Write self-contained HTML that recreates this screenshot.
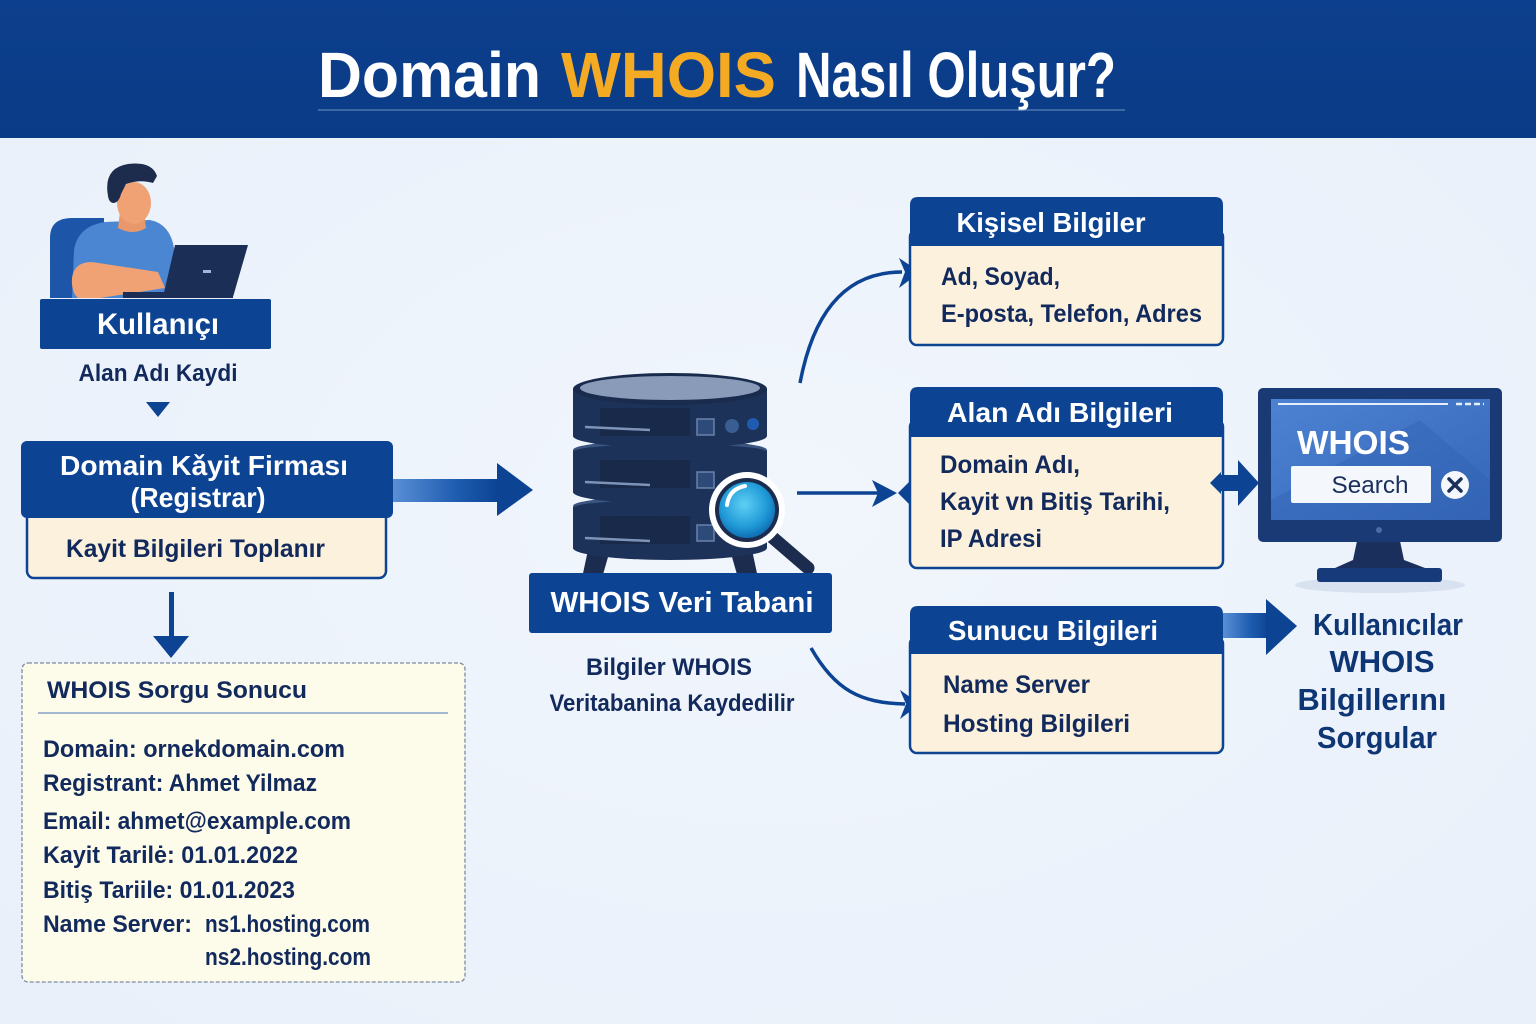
<!DOCTYPE html>
<html><head><meta charset="utf-8"><style>
html,body{margin:0;padding:0;background:#edf3fb;}
svg{display:block;}
text{font-family:"Liberation Sans","DejaVu Sans",sans-serif;font-weight:bold;}
</style></head><body>
<svg width="1536" height="1024" viewBox="0 0 1536 1024" xmlns="http://www.w3.org/2000/svg">
<defs>
<linearGradient id="hdr" x1="0" y1="0" x2="0" y2="1"><stop offset="0" stop-color="#0c3f8d"/><stop offset="1" stop-color="#0a3b86"/></linearGradient>
<linearGradient id="bar" x1="0" y1="0" x2="1" y2="0"><stop offset="0" stop-color="#5a8fd6"/><stop offset="0.6" stop-color="#1e5cb0"/><stop offset="1" stop-color="#0c4393"/></linearGradient>
<radialGradient id="lens" cx="0.45" cy="0.4" r="0.6"><stop offset="0" stop-color="#5fd0f5"/><stop offset="0.7" stop-color="#1f98d6"/><stop offset="1" stop-color="#0f6fb4"/></radialGradient>
<linearGradient id="scr" x1="0" y1="0" x2="1" y2="1"><stop offset="0" stop-color="#4d82d2"/><stop offset="1" stop-color="#3566b8"/></linearGradient>
<radialGradient id="bg" cx="0.5" cy="0.5" r="0.7"><stop offset="0" stop-color="#f1f6fc"/><stop offset="1" stop-color="#e9f0fa"/></radialGradient>
</defs>
<rect x="0" y="0" width="1536" height="1024" fill="url(#bg)"/>
<!-- header -->
<rect x="0" y="0" width="1536" height="138" fill="url(#hdr)"/>
<text x="318" y="97" font-size="64" fill="#ffffff" textLength="223" lengthAdjust="spacingAndGlyphs">Domain</text>
<text x="561" y="97" font-size="64" fill="#f4aa22" textLength="215" lengthAdjust="spacingAndGlyphs">WHOIS</text>
<text x="796" y="97" font-size="64" fill="#ffffff" textLength="320" lengthAdjust="spacingAndGlyphs">Nasıl Oluşur?</text>
<line x1="318" y1="110" x2="1125" y2="110" stroke="#7f9fd0" stroke-width="1.2" opacity="0.7"/>

<!-- person -->
<path d="M50,298 L50,238 Q50,218 72,218 L104,218 L104,298 Z" fill="#1d55a8"/>
<path d="M72,298 L74,250 Q78,226 105,222 L150,220 Q170,224 174,248 L172,298 Z" fill="#4a86d2"/>
<path d="M120,212 L144,212 L146,228 Q133,236 118,228 Z" fill="#e8986a"/>
<ellipse cx="134" cy="203" rx="17" ry="21" fill="#f0a274"/>
<path d="M108,196 Q103,168 128,164 Q152,161 157,176 L153,183 Q140,179 126,184 L121,194 Q119,202 114,203 Q109,203 108,196 Z" fill="#1d2c4c"/>
<path d="M72,278 Q74,262 92,262 L158,272 L165,288 L100,298 L78,298 Q71,292 72,278 Z" fill="#f0a274"/>
<polygon points="175,245 248,245 233,297 163,297" fill="#1b2f56"/>
<rect x="123" y="292" width="110" height="6" fill="#1b2f56"/>
<rect x="203" y="270" width="8" height="3" fill="#9fb8e0"/>

<!-- Kullanıcı -->
<rect x="40" y="299" width="231" height="50" rx="2" fill="#0c4393"/>
<text x="158" y="334" font-size="30" fill="#fff" text-anchor="middle" textLength="122" lengthAdjust="spacingAndGlyphs">Kullanıçı</text>
<text x="158" y="381" font-size="24" fill="#12295c" text-anchor="middle" textLength="159" lengthAdjust="spacingAndGlyphs">Alan Adı Kaydi</text>
<polygon points="146,402 170,402 158,417" fill="#0c4393"/>

<!-- Registrar -->
<rect x="27" y="505" width="359" height="73" rx="7" fill="#fbf1dc" stroke="#0c4393" stroke-width="2.5"/>
<rect x="21" y="441" width="372" height="77" rx="6" fill="#0c4393"/>
<text x="204" y="475" font-size="28" fill="#fff" text-anchor="middle" textLength="288" lengthAdjust="spacingAndGlyphs">Domain Kǎyit Firması</text>
<text x="198" y="507" font-size="28" fill="#fff" text-anchor="middle" textLength="135" lengthAdjust="spacingAndGlyphs">(Registrar)</text>
<text x="66" y="557" font-size="25" fill="#12295c" textLength="259" lengthAdjust="spacingAndGlyphs">Kayit Bilgileri Toplanır</text>

<!-- arrow registrar -> db -->
<rect x="393" y="479" width="106" height="23" fill="url(#bar)"/>
<polygon points="497,463 533,490 497,516" fill="#0c4393"/>

<!-- down arrow -->
<rect x="169" y="592" width="5" height="48" fill="#0c4393"/>
<polygon points="153,636 189,636 171,658" fill="#0c4393"/>

<!-- WHOIS Sorgu Sonucu -->
<rect x="22" y="663" width="443" height="319" rx="6" fill="#fdfbea" stroke="#7d8ca3" stroke-width="1.3" stroke-dasharray="4,2"/>
<text x="47" y="698" font-size="24" fill="#12295c" textLength="260" lengthAdjust="spacingAndGlyphs">WHOIS Sorgu Sonucu</text>
<line x1="38" y1="713" x2="448" y2="713" stroke="#6e8fbf" stroke-width="1.2"/>
<g font-size="24" fill="#12295c">
<text x="43" y="757" textLength="302" lengthAdjust="spacingAndGlyphs">Domain: ornekdomain.com</text>
<text x="43" y="791" textLength="274" lengthAdjust="spacingAndGlyphs">Registrant: Ahmet Yilmaz</text>
<text x="43" y="829" textLength="308" lengthAdjust="spacingAndGlyphs">Email: ahmet@example.com</text>
<text x="43" y="863" textLength="255" lengthAdjust="spacingAndGlyphs">Kayit Tarilė: 01.01.2022</text>
<text x="43" y="898" textLength="252" lengthAdjust="spacingAndGlyphs">Bitiş Tariile: 01.01.2023</text>
<text x="43" y="932" textLength="149" lengthAdjust="spacingAndGlyphs">Name Server:</text>
<text x="205" y="932" textLength="165" lengthAdjust="spacingAndGlyphs">ns1.hosting.com</text>
<text x="205" y="965" textLength="166" lengthAdjust="spacingAndGlyphs">ns2.hosting.com</text>
</g>

<!-- database -->
<polygon points="588,550 610,550 602,578 582,578" fill="#1b2c4e"/>
<polygon points="730,550 752,550 758,578 738,578" fill="#1b2c4e"/>
<!-- disk3 -->
<path d="M573,507 L573,548 A97,12 0 0 0 767,548 L767,507 Z" fill="#1d3258"/>
<ellipse cx="670" cy="506" rx="97" ry="10" fill="#3a5480"/>
<ellipse cx="670" cy="508" rx="97" ry="8" fill="#1d3258"/>
<rect x="600" y="516" width="90" height="28" fill="#18294a"/>
<line x1="585" y1="538" x2="650" y2="541" stroke="#7e93b8" stroke-width="2.5"/>
<rect x="697" y="525" width="17" height="16" fill="#2d4a78" stroke="#6a82ab" stroke-width="1.5"/>
<!-- disk2 -->
<path d="M573,450 L573,492 A97,12 0 0 0 767,492 L767,450 Z" fill="#1d3258"/>
<ellipse cx="670" cy="450" rx="97" ry="10" fill="#3a5480"/>
<ellipse cx="670" cy="452" rx="97" ry="8" fill="#1d3258"/>
<rect x="600" y="460" width="90" height="28" fill="#18294a"/>
<line x1="585" y1="482" x2="650" y2="485" stroke="#7e93b8" stroke-width="2.5"/>
<rect x="697" y="472" width="17" height="16" fill="#2d4a78" stroke="#6a82ab" stroke-width="1.5"/>
<!-- disk1 -->
<path d="M573,389 L573,436 A97,12 0 0 0 767,436 L767,389 Z" fill="#1d3258"/>
<ellipse cx="670" cy="389" rx="97" ry="16" fill="#1a2c4e"/>
<ellipse cx="670" cy="388" rx="90" ry="12" fill="#8a9bb9"/>
<rect x="600" y="408" width="90" height="28" fill="#18294a"/>
<line x1="585" y1="427" x2="650" y2="430" stroke="#7e93b8" stroke-width="2.5"/>
<rect x="697" y="419" width="17" height="16" fill="#2d4a78" stroke="#6a82ab" stroke-width="1.5"/>
<circle cx="732" cy="426" r="7" fill="#3a5d94"/>
<circle cx="753" cy="424" r="6" fill="#1f5bb0"/>
<!-- magnifier -->
<line x1="772" y1="537" x2="808" y2="568" stroke="#1b2c4e" stroke-width="13" stroke-linecap="round"/>
<circle cx="747" cy="510" r="38" fill="#ffffff"/>
<circle cx="747" cy="510" r="32" fill="#1b2c4e"/>
<circle cx="747" cy="510" r="28" fill="url(#lens)"/>
<path d="M727,505 Q729,489 745,486" stroke="#ffffff" stroke-width="4" fill="none" stroke-linecap="round"/>

<!-- WHOIS Veri Tabani -->
<rect x="529" y="573" width="303" height="60" rx="3" fill="#0c4393"/>
<text x="682" y="612" font-size="29" fill="#fff" text-anchor="middle" textLength="263" lengthAdjust="spacingAndGlyphs">WHOIS Veri Tabani</text>
<text x="669" y="675" font-size="24" fill="#12295c" text-anchor="middle" textLength="166" lengthAdjust="spacingAndGlyphs">Bilgiler WHOIS</text>
<text x="672" y="711" font-size="24" fill="#12295c" text-anchor="middle" textLength="245" lengthAdjust="spacingAndGlyphs">Veritabanina Kaydedilir</text>

<!-- connectors from db -->
<path d="M800,383 C812,320 840,272 902,272" stroke="#0c4393" stroke-width="3.5" fill="none"/>
<polygon points="899,258 920,272 899,288 905,272" fill="#0c4393"/>
<line x1="797" y1="493" x2="880" y2="493" stroke="#0c4393" stroke-width="3.5"/>
<polygon points="872,480 897,493 872,507 878,493" fill="#0c4393"/>
<polygon points="910,481 922,493 910,505 898,493" fill="#0c4393"/>
<path d="M811,648 C835,690 860,703 905,704" stroke="#0c4393" stroke-width="3.5" fill="none"/>
<polygon points="900,690 920,704 900,719 906,704" fill="#0c4393"/>

<!-- Kişisel Bilgiler -->
<rect x="910" y="230" width="313" height="115" rx="7" fill="#fbf1dc" stroke="#0c4393" stroke-width="2.5"/>
<path d="M910,246 L910,205 Q910,197 918,197 L1215,197 Q1223,197 1223,205 L1223,246 Z" fill="#0c4393"/>
<text x="1051" y="232" font-size="28" fill="#fff" text-anchor="middle" textLength="189" lengthAdjust="spacingAndGlyphs">Kişisel Bilgiler</text>
<text x="941" y="285" font-size="25" fill="#12295c" textLength="119" lengthAdjust="spacingAndGlyphs">Ad, Soyad,</text>
<text x="941" y="322" font-size="25" fill="#12295c" textLength="261" lengthAdjust="spacingAndGlyphs">E-posta, Telefon, Adres</text>

<!-- Alan Adı Bilgileri -->
<rect x="910" y="420" width="313" height="148" rx="7" fill="#fbf1dc" stroke="#0c4393" stroke-width="2.5"/>
<path d="M910,437 L910,395 Q910,387 918,387 L1215,387 Q1223,387 1223,395 L1223,437 Z" fill="#0c4393"/>
<text x="1060" y="422" font-size="28" fill="#fff" text-anchor="middle" textLength="226" lengthAdjust="spacingAndGlyphs">Alan Adı Bilgileri</text>
<text x="940" y="473" font-size="25" fill="#12295c" textLength="140" lengthAdjust="spacingAndGlyphs">Domain Adı,</text>
<text x="940" y="510" font-size="25" fill="#12295c" textLength="230" lengthAdjust="spacingAndGlyphs">Kayit vn Bitiş Tarihi,</text>
<text x="940" y="547" font-size="25" fill="#12295c" textLength="102" lengthAdjust="spacingAndGlyphs">IP Adresi</text>

<!-- Sunucu Bilgileri -->
<rect x="910" y="637" width="313" height="116" rx="7" fill="#fbf1dc" stroke="#0c4393" stroke-width="2.5"/>
<path d="M910,654 L910,614 Q910,606 918,606 L1215,606 Q1223,606 1223,614 L1223,654 Z" fill="#0c4393"/>
<text x="1053" y="640" font-size="28" fill="#fff" text-anchor="middle" textLength="210" lengthAdjust="spacingAndGlyphs">Sunucu Bilgileri</text>
<text x="943" y="693" font-size="25" fill="#12295c" textLength="147" lengthAdjust="spacingAndGlyphs">Name Server</text>
<text x="943" y="732" font-size="25" fill="#12295c" textLength="187" lengthAdjust="spacingAndGlyphs">Hosting Bilgileri</text>

<!-- double arrow to monitor -->
<polygon points="1221,472 1210,483 1221,494" fill="#0c4393"/>
<rect x="1220" y="475" width="20" height="16" fill="#0c4393"/>
<polygon points="1238,460 1259,483 1238,506" fill="#0c4393"/>

<!-- monitor -->
<ellipse cx="1380" cy="585" rx="85" ry="8" fill="#c9d6ea" opacity="0.6"/>
<polygon points="1357,541 1400,541 1404,560 1425,568 1335,568 1353,560" fill="#1b2f5c"/>
<rect x="1317" y="568" width="125" height="14" rx="3" fill="#163a7a"/>
<rect x="1258" y="388" width="244" height="154" rx="5" fill="#1a3a76"/>
<rect x="1271" y="399" width="219" height="121" fill="url(#scr)"/>
<path d="M1420,420 L1490,480 L1490,520 L1271,520 L1271,500 Z" fill="#2f5fb0" opacity="0.35"/>
<line x1="1278" y1="404" x2="1448" y2="404" stroke="#e6eefb" stroke-width="2"/>
<line x1="1456" y1="404" x2="1484" y2="404" stroke="#e6eefb" stroke-width="2.5" stroke-dasharray="6,3"/>
<text x="1297" y="454" font-size="33" fill="#fff" textLength="113" lengthAdjust="spacingAndGlyphs">WHOIS</text>
<rect x="1291" y="466" width="140" height="37" rx="2" fill="#f4f7fc"/>
<text x="1370" y="493" font-size="24" fill="#1a2f5c" text-anchor="middle" textLength="77" lengthAdjust="spacingAndGlyphs" style="font-weight:normal">Search</text>
<circle cx="1455" cy="485" r="14" fill="#f4f7fc"/>
<path d="M1449,479 L1461,491 M1461,479 L1449,491" stroke="#1a2f5c" stroke-width="3.5" stroke-linecap="round"/>
<circle cx="1379" cy="530" r="3" fill="#4a6aa8"/>

<!-- arrow to text -->
<rect x="1223" y="613" width="46" height="25" fill="url(#bar)"/>
<polygon points="1266,599 1297,626 1266,655" fill="#0c4393"/>

<g font-size="31" fill="#0e3674" text-anchor="middle">
<text x="1388" y="635" textLength="150" lengthAdjust="spacingAndGlyphs">Kullanıcılar</text>
<text x="1382" y="672" textLength="105" lengthAdjust="spacingAndGlyphs">WHOIS</text>
<text x="1372" y="710" textLength="149" lengthAdjust="spacingAndGlyphs">Bilgillerını</text>
<text x="1377" y="748" textLength="120" lengthAdjust="spacingAndGlyphs">Sorgular</text>
</g>
</svg>
</body></html>
